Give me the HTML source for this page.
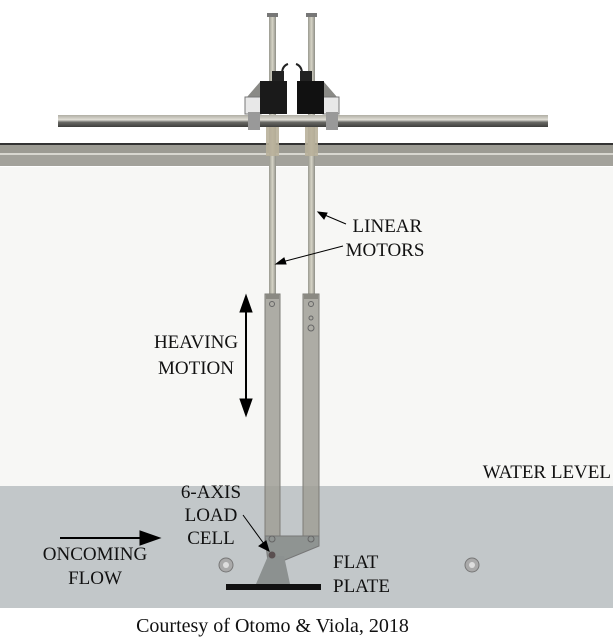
<!DOCTYPE html>
<html><head><style>
body{margin:0;width:613px;height:638px;overflow:hidden;background:#fff;font-family:"Liberation Serif",serif;}
.t{position:absolute;font-size:19px;color:#111;text-align:center;line-height:24px;white-space:nowrap;}
</style></head><body>
<svg width="613" height="638" style="position:absolute;left:0;top:0">
<defs>
<linearGradient id="rod" x1="0" x2="1"><stop offset="0" stop-color="#9a9a90"/><stop offset="0.5" stop-color="#d6d4c6"/><stop offset="1" stop-color="#8e8e86"/></linearGradient>
<linearGradient id="rail" x1="0" y1="0" x2="0" y2="1"><stop offset="0" stop-color="#b0aea4"/><stop offset="0.4" stop-color="#e0ded6"/><stop offset="0.6" stop-color="#6a6a66"/><stop offset="1" stop-color="#3e3e3c"/></linearGradient>
</defs>
<rect x="0" y="0" width="613" height="167" fill="#ffffff"/>
<rect x="0" y="167" width="613" height="320" fill="#f7f7f5"/>
<rect x="0" y="486" width="613" height="122" fill="#c2c7c9"/>
<rect x="0" y="608" width="613" height="30" fill="#fff"/>
<rect x="0" y="143" width="613" height="2" fill="#333"/>
<rect x="0" y="145" width="613" height="8" fill="#9c9b93"/>
<rect x="0" y="153" width="613" height="2" fill="#d8d7d0"/>
<rect x="0" y="155" width="613" height="11" fill="#a3a29b"/>
<rect x="269" y="14" width="7" height="280" fill="url(#rod)"/>
<rect x="308" y="14" width="7" height="280" fill="url(#rod)"/>
<rect x="267" y="13" width="11" height="4" fill="#777"/>
<rect x="306" y="13" width="11" height="4" fill="#777"/>
<rect x="266" y="126" width="13" height="30" fill="#b8b09a" opacity="0.9"/>
<rect x="305" y="126" width="13" height="30" fill="#b8b09a" opacity="0.9"/>
<polygon points="247,97 260,82 260,112 247,112" fill="#8a8a86"/>
<polygon points="337,97 324,82 324,112 337,112" fill="#8a8a86"/>
<rect x="245" y="97" width="16" height="17" fill="#e8e8e8" stroke="#777"/>
<rect x="323" y="97" width="16" height="17" fill="#e8e8e8" stroke="#777"/>
<rect x="272" y="71" width="12" height="10" fill="#222"/>
<rect x="300" y="71" width="12" height="10" fill="#222"/>
<rect x="260" y="81" width="27" height="33" fill="#1a1a1a"/>
<rect x="297" y="81" width="27" height="33" fill="#111"/>
<path d="M282 74 q0 -8 6 -10 M302 74 q0 -8 -6 -10" stroke="#222" stroke-width="2" fill="none"/>
<rect x="58" y="115" width="490" height="12" fill="url(#rail)"/>
<rect x="248" y="112" width="12" height="18" fill="#999"/>
<rect x="326" y="112" width="12" height="18" fill="#999"/>
<g fill="#a09f96" fill-opacity="0.85" stroke="#7d7c76" stroke-width="1">
<rect x="265" y="294" width="15" height="250"/>
<rect x="303" y="294" width="16" height="250"/>
</g>
<rect x="266" y="294" width="13" height="5" fill="#8a8982"/>
<rect x="304" y="294" width="14" height="5" fill="#8a8982"/>
<circle cx="272" cy="304" r="2.5" fill="none" stroke="#666"/>
<circle cx="311" cy="304" r="2.5" fill="none" stroke="#666"/>
<circle cx="311" cy="318" r="2" fill="none" stroke="#666"/>
<circle cx="311" cy="328" r="3" fill="none" stroke="#666"/>
<polygon points="265,536 319,536 319,546 285,560 268,562" fill="#8f9492" stroke="#777"/>
<circle cx="272" cy="539" r="3" fill="none" stroke="#666"/>
<circle cx="311" cy="539" r="3" fill="none" stroke="#666"/>
<polygon points="268,556 284,556 290,584 256,584" fill="#8c9190"/>
<circle cx="272" cy="555" r="3.5" fill="#5a4f50"/>
<rect x="226" y="584" width="95" height="6" fill="#111"/>
<circle cx="226" cy="565" r="7" fill="#aaa" stroke="#777"/><circle cx="226" cy="565" r="3" fill="#ddd"/>
<circle cx="472" cy="565" r="7" fill="#aaa" stroke="#777"/><circle cx="472" cy="565" r="3" fill="#ddd"/>
<g stroke="#000" stroke-width="1" fill="#000">
<line x1="346" y1="224" x2="320" y2="213"/><polygon points="318,212 327,213 324,219"/>
<line x1="343" y1="246" x2="278" y2="263"/><polygon points="276,264 284,258 286,264"/>
<line x1="246" y1="303" x2="246" y2="410" stroke-width="2"/>
<polygon points="246,295 240,312 252,312"/><polygon points="246,416 240,399 252,399"/>
<line x1="60" y1="538" x2="145" y2="538" stroke-width="2"/><polygon points="160,538 140,531 140,545"/>
<line x1="243" y1="515" x2="267" y2="548"/><polygon points="269,551 259,546 266,541"/>
</g>
</svg>
<div class="t" style="left:335px;width:100px;top:215px">&nbsp;LINEAR<br>MOTORS</div>
<div class="t" style="left:146px;width:100px;top:330px;line-height:26px">HEAVING<br>MOTION</div>
<div class="t" style="right:2px;top:461px">WATER LEVEL</div>
<div class="t" style="left:161px;width:100px;top:481px;line-height:23px">6-AXIS<br>LOAD<br>CELL</div>
<div class="t" style="left:35px;width:120px;top:543px">ONCOMING<br>FLOW</div>
<div class="t" style="left:333px;top:551px;text-align:left">FLAT<br>PLATE</div>
<div class="t" style="left:0;width:545px;top:614px;font-size:20px">Courtesy of Otomo &amp; Viola, 2018</div>
</body></html>
